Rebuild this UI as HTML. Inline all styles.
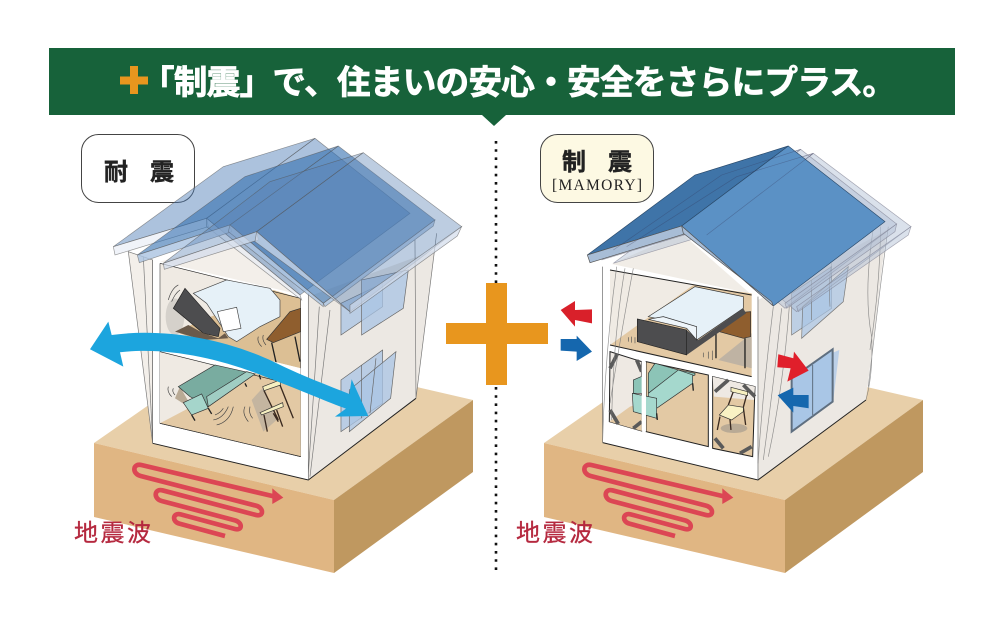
<!DOCTYPE html>
<html lang="ja"><head><meta charset="utf-8"><title>制震</title>
<style>
html,body{margin:0;padding:0;background:#fff}
svg{display:block}
text{font-family:"Liberation Sans","Noto Sans CJK JP",sans-serif}
</style></head><body>
<svg xmlns="http://www.w3.org/2000/svg" width="1000" height="633" viewBox="0 0 1000 633">
<rect width="1000" height="633" fill="#fff"/>
<!-- banner -->
<rect x="49" y="48" width="906" height="67" fill="#17623a"/>
<polygon points="482,115 506,115 494,126" fill="#17623a"/>
<path d="M120,76.5H148V84.5H120ZM130,66H138V94H130Z" fill="#e8961e"/>
<text x="141" y="94" font-size="33.5" font-weight="700" fill="#fff" stroke="#fff" stroke-width=".8" textLength="755" lengthAdjust="spacing">「制震」で、住まいの安心・安全をさらにプラス。</text>
<!-- dotted line -->
<line x1="496" y1="141" x2="496" y2="574" stroke="#111" stroke-width="2.6" stroke-dasharray="2.6 5.6"/>
<!-- plus -->
<path d="M446,323H486V283H507V323H548V344H507V385H486V344H446Z" fill="#e8961e"/>

<!-- left block -->
<polygon points="94,443 235,345 473,400 334,500" fill="#e8cfa9"/>
<polygon points="94,443 334,500 334,573 94,517" fill="#e0b683"/>
<polygon points="334,500 473,400 473,472 334,573" fill="#bf9860"/>
<!-- right block -->
<polygon points="544,443 685,345 923,400 785,500" fill="#e8cfa9"/>
<polygon points="544,443 785,500 785,573 544,517" fill="#e0b683"/>
<polygon points="785,500 923,400 923,472 785,573" fill="#bf9860"/>

<!-- seismic waves -->
<g id="wave" transform="translate(120,455) scale(.3333)">
<path d="M315,243 L178,206 C155,200 158,172 182,178 L345,222 C368,228 368,202 345,196 L125,138 C100,132 102,100 127,106 L408,180 C432,186 432,158 408,152 L62,63 C35,56 38,24 64,30 L465,125" fill="none" stroke="#dc4654" stroke-width="14"/>
<polygon points="457,100 490,128 457,147" fill="#dc4654"/>
</g>
<use href="#wave" x="450" y="0"/>
<text x="74" y="541" font-size="24" fill="#b5293f" stroke="#b5293f" stroke-width=".3" textLength="77" lengthAdjust="spacing">地震波</text>
<text x="516" y="541" font-size="24" fill="#b5293f" stroke="#b5293f" stroke-width=".3" textLength="77" lengthAdjust="spacing">地震波</text>

<!-- label boxes -->
<rect x="81.5" y="134.5" width="113" height="68" rx="17" fill="#fff" stroke="#444" stroke-width="1"/>
<text x="104" y="180" font-size="24" font-weight="700" fill="#222" stroke="#222" stroke-width=".4">耐</text>
<text x="150" y="180" font-size="24" font-weight="700" fill="#222" stroke="#222" stroke-width=".4">震</text>
<rect x="540.5" y="134.5" width="113" height="68" rx="17" fill="#fdf9e3" stroke="#444" stroke-width="1"/>
<text x="562" y="170" font-size="24" font-weight="700" fill="#222" stroke="#222" stroke-width=".4">制</text>
<text x="608" y="170" font-size="24" font-weight="700" fill="#222" stroke="#222" stroke-width=".4">震</text>
<text x="552" y="190" font-size="15.5" fill="#222" style="font-family:'Liberation Serif','Noto Serif CJK SC',serif" textLength="90" lengthAdjust="spacing">[MAMORY]</text>

<!-- LEFT HOUSE -->
<g transform="translate(60,120) scale(.3333)">
<polygon points="205,395 278,420 278,970" fill="#f3efea" stroke="#777" stroke-width="2"/>
<line x1="250" y1="410" x2="278" y2="965" stroke="#777" stroke-width="2"/>
<polygon points="278,420 745,520 745,1080 278,970" fill="#fff"/>
<polygon points="745,530 1125,390 1068,835 745,1080" fill="#ece8e3"/>
<path d="M278,970L745,1080L1068,835" fill="none" stroke="#222" stroke-width="3"/>
<path d="M278,420V970M745,520V1080" fill="none" stroke="#666" stroke-width="2"/>
<path d="M745,1060L778,560M750,1070L810,570M1068,835L1065,360M1068,835L1130,340" fill="none" stroke="#777" stroke-width="2"/>
<!-- gable -->
<polygon points="300,425 590,345 725,525" fill="#f3efea"/>
<!-- upper room -->
<polygon points="300,430 722,535 722,745 300,640" fill="#efeae3"/>
<polygon points="345,635 430,600 640,510 722,535 722,745 500,690" fill="#dcbf94"/>
<ellipse cx="345" cy="590" rx="28" ry="55" fill="#d5d1cb"/>
<path d="M300,430L722,535" fill="none" stroke="#222" stroke-width="2"/>
<path d="M722,535V1010L300,910V430" fill="none" stroke="#555" stroke-width="2"/>
<polygon points="400,520 500,480 630,505 660,540 660,590 600,620 530,665 505,650 440,550" fill="#e6f1f8" stroke="#444" stroke-width="2"/>
<polygon points="340,565 375,505 480,625 475,650 430,640" fill="#4d4d4f" stroke="#222" stroke-width="2"/>
<polygon points="345,635 385,615 430,640 475,655 495,640 505,655 430,660" fill="#6a5a4a"/>
<polygon points="472,575 530,562 543,625 490,635" fill="#fff" stroke="#444" stroke-width="2"/>
<polygon points="620,658 690,575 722,565 722,635 640,668" fill="#8f5e2e" stroke="#333" stroke-width="2"/>
<path d="M635,668L650,735M705,650L720,725" stroke="#222" stroke-width="4" fill="none"/>
<path d="M325,540Q335,505 355,495M335,545Q345,520 360,510M595,650Q590,665 605,680M610,645Q605,660 618,675" stroke="#444" stroke-width="2" fill="none"/>
<!-- slab + lower room -->
<polygon points="300,640 722,745 722,800 300,695" fill="#fff"/>
<polygon points="300,695 722,800 722,1010 300,910" fill="#efeae3"/>
<polygon points="300,910 722,1010 722,790 585,760" fill="#e3c9a4"/>
<path d="M300,695L722,800M300,910L722,1010" fill="none" stroke="#222" stroke-width="2"/>
<polygon points="345,835 360,800 400,870" fill="#b9aa95"/>
<polygon points="575,840 612,800 650,900 610,935" fill="#c4b5a0"/>
<polygon points="355,800 465,735 585,762 445,860 390,830" fill="#79aca0" stroke="#333" stroke-width="2"/>
<polygon points="440,830 560,755 585,762 445,860" fill="#a0cdc3" stroke="#333" stroke-width="2"/>
<polygon points="370,848 425,822 445,865 395,885" fill="#a5d5cb" stroke="#333" stroke-width="2"/>
<path d="M395,885L405,902M445,865L455,882M555,790L560,800M598,765L602,778" stroke="#222" stroke-width="4"/>
<path d="M612,812L655,900M660,795L700,895M612,885L622,935M650,870L668,920M640,880L655,905" stroke="#3a2a20" stroke-width="4" fill="none"/>
<polygon points="608,800 660,780 662,795 612,812" fill="#f6efc0" stroke="#333" stroke-width="2"/>
<polygon points="600,878 668,848 670,860 605,885" fill="#f6efc0" stroke="#333" stroke-width="2"/>
<path d="M325,800Q320,815 335,830M340,805Q335,815 345,825M460,900Q490,895 505,860M470,915Q510,905 520,860M465,885Q480,880 490,865M555,860Q545,880 565,905M570,860Q565,880 578,895" stroke="#444" stroke-width="2" fill="none"/>
<!-- windows -->
<g fill="#a9c4e4" fill-opacity=".75" stroke="#666" stroke-width="2">
<polygon points="843,550 968,490 968,560 843,645"/>
<polygon points="905,480 1045,450 1030,565 905,645"/>
<polygon points="843,780 968,690 968,850 843,935"/>
<polygon points="868,810 1008,695 992,835 868,935"/>
<line x1="905" y1="735" x2="905" y2="895"/><line x1="948" y1="715" x2="930" y2="880"/>
</g>
<!-- roofs -->
<g stroke="#555" stroke-opacity=".6" stroke-width="2">
<g fill="rgb(70,120,180)" fill-opacity=".45">
<polygon points="160,380 490,140 765,55 440,295"/>
<polygon points="440,295 765,55 1050,280 720,525"/>
</g>
<g fill="rgb(230,235,245)" fill-opacity=".6">
<polygon points="160,380 440,295 445,320 165,405"/>
<polygon points="440,295 720,525 725,540 440,320"/>
</g>
<g fill="rgb(50,110,175)" fill-opacity=".6">
<polygon points="232,405 555,170 835,78 510,315"/>
<polygon points="510,315 835,78 1125,300 790,550"/>
</g>
<g fill="rgb(170,195,225)" fill-opacity=".8">
<polygon points="232,405 510,315 515,335 238,428"/>
<polygon points="510,315 790,550 790,560 505,335"/>
<polygon points="790,550 1125,300 1120,318 795,560"/>
</g>
<g fill="rgb(90,130,180)" fill-opacity=".4">
<polygon points="310,430 630,185 910,98 590,335"/>
<polygon points="590,335 910,98 1205,320 870,575"/>
</g>
<g fill="rgb(210,220,235)" fill-opacity=".7">
<polygon points="310,430 590,335 595,360 313,448"/>
<polygon points="590,335 870,575 870,575 585,365"/>
<polygon points="870,555 1205,320 1192,348 870,580"/>
</g>
</g>
<!-- swing arrow -->
<path d="M90,688 L145,605 L155,645 C300,625 480,650 640,725 C720,765 800,795 868,822 L875,778 L925,888 L825,890 L858,866 C800,845 720,810 620,772 C480,715 320,680 180,697 L190,740 Z" fill="#1ca5de"/>
</g>

<!-- RIGHT HOUSE -->
<g transform="translate(530,120) scale(.3333)">
<polygon points="218,440 684,530 684,1080 218,968" fill="#fff"/>
<polygon points="684,540 1070,330 1008,840 684,1080" fill="#ece8e3"/>
<path d="M218,968L684,1080L1008,840" fill="none" stroke="#222" stroke-width="3"/>
<path d="M218,440V968M684,530V1080" fill="none" stroke="#666" stroke-width="2"/>
<polygon points="245,432 455,340 660,520" fill="#f1ede7"/>
<!-- upper room -->
<polygon points="240,450 665,525 665,770 240,675" fill="#f0ebe4"/>
<polygon points="240,675 665,770 665,520 490,495" fill="#e3c9a4"/>
<path d="M240,450L665,525M240,675L665,770" fill="none" stroke="#222" stroke-width="3"/>
<polygon points="565,720 665,640 665,745" fill="#bfb3a3"/>
<polygon points="550,630 625,578 662,575 662,650 640,655" fill="#8f5e2e" stroke="#333" stroke-width="2"/>
<path d="M558,635V715M645,655V745" stroke="#222" stroke-width="4"/>
<polygon points="355,590 495,500 640,530 640,565 500,660 470,615" fill="#e6f1f8" stroke="#333" stroke-width="2"/>
<polygon points="470,630 505,660 640,565 648,580 470,705" fill="#4d4d4f"/>
<polygon points="322,597 470,630 470,705 322,665" fill="#4d4d4f" stroke="#222" stroke-width="2"/>
<polygon points="355,598 400,590 500,620 500,660 470,625" fill="#eef5fa" stroke="#333" stroke-width="2"/>
<path d="M295,665V652M305,668V650M315,670V652M520,712V698M535,716V695M547,720V692" stroke="#555" stroke-width="2"/>
<!-- lower rooms -->
<polygon points="240,695 335,725 335,933 238,905" fill="#eee9e3" stroke="#222" stroke-width="3"/>
<polygon points="238,905 335,933 335,850 300,860" fill="#e3c9a4"/>
<polygon points="348,725 535,765 535,980 348,935" fill="#e3c9a4" stroke="#222" stroke-width="3"/>
<polygon points="548,770 675,800 668,1010 548,985" fill="#e3c9a4" stroke="#222" stroke-width="3"/>
<polygon points="548,770 675,800 672,840 552,830" fill="#eee9e3"/>
<!-- dampers -->
<g fill="none" stroke="#5a5a5a" stroke-width="11">
<path d="M262,702L240,745M320,720L335,755M240,870L265,912M310,925L335,905"/>
<path d="M555,815L595,780M640,795L675,830M555,955L580,985M630,1000L665,980"/>
</g>
<!-- sofa -->
<polygon points="355,760 375,730 445,750 495,760 495,765 355,820" fill="#8cc4b7" stroke="#333" stroke-width="2"/>
<polygon points="355,820 445,750 488,765 488,790 380,865 355,835" fill="#a5d8cd" stroke="#333" stroke-width="2"/>
<polygon points="310,780 345,765 345,820 310,820" fill="#8cc4b7" stroke="#333" stroke-width="2"/>
<polygon points="307,820 380,835 380,895 310,875" fill="#a5d8cd" stroke="#333" stroke-width="2"/>
<path d="M380,880L382,900M488,790L490,812" stroke="#222" stroke-width="4"/>
<polygon points="335,722 348,725 348,935 335,932" fill="#fff"/>
<!-- chair -->
<ellipse cx="612" cy="925" rx="40" ry="14" fill="#b9aa95"/>
<path d="M610,815L595,855M650,825L640,862L647,915M570,890L562,930M600,898L603,930" stroke="#3a2a20" stroke-width="4" fill="none"/>
<polygon points="603,802 653,815 653,827 603,815" fill="#f6efc0" stroke="#333" stroke-width="2"/>
<polygon points="568,885 595,855 640,862 640,875 605,900" fill="#f9f2c4" stroke="#333" stroke-width="2"/>
<!-- windows -->
<g fill="#a9c4e4" fill-opacity=".7" stroke="#777" stroke-width="2">
<polygon points="785,520 905,440 905,565 785,645"/>
<polygon points="818,560 955,440 940,545 815,655"/>
<line x1="845" y1="480" x2="845" y2="600"/>
</g>
<polygon points="905,700 928,690 910,840 905,845" fill="#bcd0e8"/>
<polygon points="785,775 908,688 908,845 785,935" fill="#a9c6e6" stroke="#5f6f80" stroke-width="6"/>
<line x1="848" y1="735" x2="848" y2="885" stroke="#5f6f80" stroke-width="3"/>
<!-- curtains -->
<g fill="none" stroke="#777" stroke-width="2" stroke-opacity=".8">
<path d="M260,440Q225,700 218,960M285,445Q250,650 245,900M310,445Q280,600 240,850M730,560Q700,800 684,1030M755,565Q730,800 700,1020M778,560Q760,800 715,1010M1030,325Q1000,520 1025,650Q1030,760 1008,840M1052,320Q1050,500 1020,690M1075,320Q1050,500 1015,800M905,430Q895,480 900,560"/>
</g>
<!-- ghost roofs -->
<g id="ghost" stroke="#778" stroke-opacity=".6" stroke-width="2" fill="#aebcd2" fill-opacity=".45">
<polygon points="250,430 572,190 850,100 530,345"/>
<polygon points="530,345 850,100 1143,320 800,575"/>
<polygon points="800,560 1143,320 1135,345 805,575"/>
<polygon points="215,420 537,180 812,88 495,335"/>
<polygon points="495,335 812,88 1100,312 765,565"/>
<polygon points="765,550 1100,312 1095,335 770,565"/>
</g>
<!-- main roof -->
<polygon points="172,405 495,165 775,78 455,318" fill="#3f74a8" stroke="#2b4a6a" stroke-width="2"/>
<polygon points="455,318 775,78 1065,305 730,558" fill="#5b91c5" stroke="#2b4a6a" stroke-width="2"/>
<polygon points="172,405 455,318 470,340 180,428" fill="#a8bdd6" stroke="#555" stroke-width="2"/>
<polygon points="455,318 730,558 725,545 460,340" fill="#a8bdd6" stroke="#555" stroke-width="2"/>
<path d="M250,390L575,165L812,88M290,380L620,170L850,100M530,345L850,100" stroke="#335" stroke-opacity=".35" stroke-width="2" fill="none"/>
<!-- force arrows -->
<polygon points="92,570 135,543 135,570 186,568 186,610 135,600 135,620" fill="#d9202a"/>
<polygon points="186,695 140,647 140,657 92,657 92,692 140,695 140,723" fill="#1567ae"/>
<polygon points="745,703 790,715 792,695 836,752 772,785 782,745 742,742" fill="#e01f2b"/>
<polygon points="743,826 790,803 790,825 836,825 836,865 790,858 790,878" fill="#1567ae"/>
</g>
</svg>
</body></html>
